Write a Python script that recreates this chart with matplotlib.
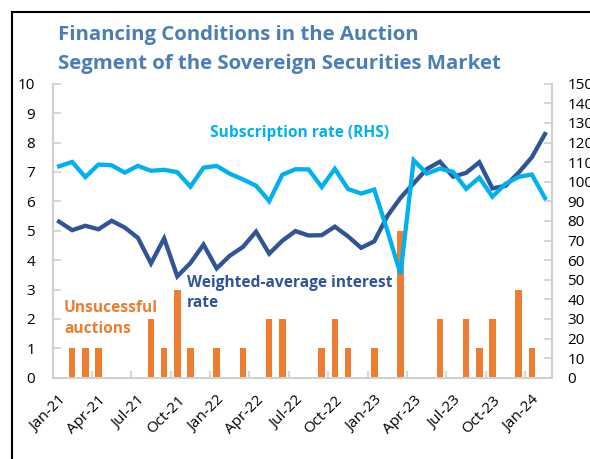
import matplotlib
matplotlib.use('Agg')
import matplotlib.pyplot as plt
from matplotlib.lines import Line2D

plt.rcParams['font.family'] = ['Open Sans', 'DejaVu Sans']

# monthly data, Jan-21 .. Feb-24
tick_labels = ['Jan-21', 'Apr-21', 'Jul-21', 'Oct-21', 'Jan-22', 'Apr-22', 'Jul-22',
               'Oct-22', 'Jan-23', 'Apr-23', 'Jul-23', 'Oct-23', 'Jan-24']

interest_rate = [5.31, 5.02, 5.17, 5.05, 5.34, 5.11, 4.76, 3.89, 4.74, 3.45, 3.90, 4.53,
                 3.72, 4.15, 4.45, 4.97, 4.22, 4.66, 4.99, 4.84, 4.85, 5.14, 4.81, 4.42,
                 4.64, 5.50, 6.12, 6.61, 7.10, 7.35, 6.84, 6.97, 7.33, 6.44, 6.53, 6.98,
                 7.50, 8.29]

subscription = [107.9, 110.1, 102.4, 108.8, 108.4, 104.7, 108.1, 105.6, 106.1, 104.9,
                97.5, 107.2, 108.1, 104.1, 101.2, 98.0, 90.1, 103.6, 106.4, 106.3,
                97.3, 106.6, 96.3, 94.0, 96.0, 75.0, 53.0, 111.0, 104.2, 106.7,
                105.1, 96.4, 102.1, 92.4, 99.0, 102.5, 103.7, 91.7]

unsuccessful = [0, 1, 1, 1, 0, 0, 0, 2, 1, 3, 1, 0, 1, 0, 1, 0, 2, 2, 0, 0,
                1, 2, 1, 0, 1, 0, 5, 0, 0, 2, 0, 2, 1, 2, 0, 3, 1, 0]

c_dark = '#2F5597'
c_light = '#00B0F0'
c_orange = '#ED7D31'
c_title = '#4A7EB4'
c_axis = '#D0D0D0'

x = list(range(len(interest_rate)))

fig = plt.figure(figsize=(5.9, 4.59), dpi=100)
ax = fig.add_axes([0.089, 0.177, 0.8458, 0.6405])
ax2 = ax.twinx()

ax.bar(x, unsuccessful, width=0.5, color=c_orange, zorder=1)
ax.plot(x, interest_rate, color=c_dark, lw=3.1, solid_joinstyle='miter', zorder=2)
ax2.plot(x, subscription, color=c_light, lw=3.1, solid_joinstyle='miter')

ax.set_xlim(-0.5, len(x) - 0.5)
ax.set_ylim(0, 10)
ax2.set_ylim(0, 150)
ax.set_yticks(range(0, 11))
ax2.set_yticks(range(0, 151, 10))

# tick marks at category boundaries, labels at category centres
ax.set_xticks([i - 0.5 for i in range(0, len(x) + 1, 3)])
ax.set_xticks(range(0, len(x), 3), minor=True)
ax.set_xticklabels([])
ax.set_xticklabels(tick_labels, minor=True, rotation=45, ha='right',
                   rotation_mode='anchor', fontsize=11)
ax.tick_params(axis='x', which='major', direction='in', length=5, color=c_axis, width=1.2)
ax.tick_params(axis='x', which='minor', length=0, pad=11)
ax.tick_params(axis='y', direction='in', length=6, color=c_axis, width=1.2,
               labelsize=11, pad=12.5)
ax2.tick_params(axis='y', direction='in', length=6, color=c_axis, width=1.2,
                labelsize=11, pad=11.5)

for a in (ax, ax2):
    for s in a.spines.values():
        s.set_visible(False)
ax.spines['left'].set_visible(True)
ax.spines['bottom'].set_visible(True)
ax2.spines['right'].set_visible(True)
for s in (ax.spines['left'], ax.spines['bottom'], ax2.spines['right']):
    s.set_color(c_axis)
    s.set_linewidth(1.5)

# series labels
ax.text(0.315, 0.832, 'Subscription rate (RHS)', transform=ax.transAxes,
        color=c_light, fontsize=11.2, fontweight='bold', va='center')
ax.text(0.27, 0.288, 'Weighted-average interest\nrate', transform=ax.transAxes,
        color=c_dark, fontsize=11.2, fontweight='bold', va='center', linespacing=1.3)
ax.text(0.023, 0.2, 'Unsucessful\nauctions', transform=ax.transAxes,
        color=c_orange, fontsize=11.2, fontweight='bold', va='center', linespacing=1.42)

fig.text(58 / 590, 1 - 40 / 459, 'Financing Conditions in the Auction',
         color=c_title, fontsize=14.7, fontweight='bold', va='baseline')
fig.text(58 / 590, 1 - 69 / 459, 'Segment of the Sovereign Securities Market',
         color=c_title, fontsize=14.7, fontweight='bold', va='baseline')

# black frame of the original screenshot (left and top edges)
fig.add_artist(Line2D([11.5 / 590, 11.5 / 590], [0, 1 - 12 / 459], color='black', lw=1.5))
fig.add_artist(Line2D([11.5 / 590, 1], [1 - 12 / 459, 1 - 12 / 459], color='black', lw=1.5))

fig.savefig('out.png', dpi=100)
